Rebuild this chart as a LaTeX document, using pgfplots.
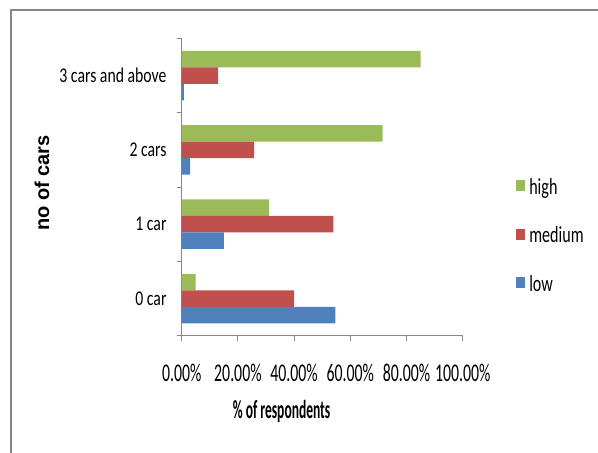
\documentclass[border=0pt]{standalone}
\usepackage{pgfplots}
\pgfplotsset{compat=1.18}
\usepackage{fontspec}
\setmainfont{Carlito}
\newfontfamily\ticfont{Carlito}[FakeStretch=0.62]
\newfontfamily\catfont{Carlito}[FakeStretch=0.75]
\newfontfamily\legfont{Carlito}[FakeStretch=0.7]
\newfontfamily\xlabfont{Carlito}[FakeStretch=0.52]
\newfontfamily\ylabfont{Liberation Sans}
\definecolor{cgreen}{HTML}{9BBB59}
\definecolor{cred}{HTML}{C0504D}
\definecolor{cblue}{HTML}{4F81BD}
\definecolor{axgray}{HTML}{868686}
\begin{document}
\begin{tikzpicture}
\path[use as bounding box] (0,0) rectangle (598pt,453pt);
\draw[axgray, line width=1.3pt] (11pt,0) -- (11pt,443pt) -- (598pt,443pt);
\begin{axis}[
  at={(181.7pt,117.3pt)}, anchor=south west,
  scale only axis, width=281pt, height=297.2pt,
  xbar, bar width=16.5pt,
  xmin=0, xmax=100, ymin=-0.5, ymax=3.5,
  axis x line*=bottom, axis y line*=left,
  axis line style={draw=axgray, line width=0.9pt, -},
  tick align=outside,
  xtick={0,20,40,60,80,100},
  xticklabels={0.00\%,20.00\%,40.00\%,60.00\%,80.00\%,100.00\%},
  major x tick style={draw=axgray, line width=0.9pt},
  major tick length=5pt, minor tick length=5pt,
  ytick={0,1,2,3},
  yticklabels={0 car,1 car,2 cars,3 cars and above},
  minor ytick={-0.5,0.5,1.5,2.5,3.5},
  major y tick style={draw=none},
  minor y tick style={draw=axgray, line width=0.9pt},
  xticklabel style={font=\ticfont\fontsize{25.5}{25.5}\selectfont, anchor=north, inner sep=0pt, yshift=-23pt},
  yticklabel style={font=\catfont\fontsize{21}{21}\selectfont, anchor=east, inner sep=0pt, xshift=-10pt},
  xlabel={\% of respondents},
  xlabel style={font=\xlabfont\bfseries\fontsize{26}{26}\selectfont, at={(rel axis cs:0.3555,0)}, anchor=center, yshift=-75.3pt},
  ylabel={no of cars},
  ylabel style={font=\ylabfont\bfseries\fontsize{20}{20}\selectfont, at={(rel axis cs:0,0.514)}, anchor=center, yshift=139.7pt},
  legend style={at={(rel axis cs:1.19,0.329)}, anchor=west, draw=none, fill=none,
    inner sep=0pt, row sep=30.5pt,
    nodes={inner sep=0pt, text height=12pt, text depth=4pt},
    font=\legfont\fontsize{23}{23}\selectfont,
    /tikz/every odd column/.append style={column sep=4pt}},
  legend cell align=left,
  legend image code/.code={\fill[#1] (0pt,-1pt) rectangle (9pt,10pt);},
]
\addplot[fill=cgreen, draw=none, bar shift=16.5pt] coordinates {(85,3) (71.5,2) (31,1) (5,0)};
\addlegendentry{high}
\addplot[fill=cred, draw=none, bar shift=0pt] coordinates {(13,3) (25.8,2) (54,1) (40,0)};
\addlegendentry{medium}
\addplot[fill=cblue, draw=none, bar shift=-16.5pt] coordinates {(0.8,3) (3,2) (15,1) (54.7,0)};
\addlegendentry{low}
\end{axis}
\end{tikzpicture}
\end{document}
